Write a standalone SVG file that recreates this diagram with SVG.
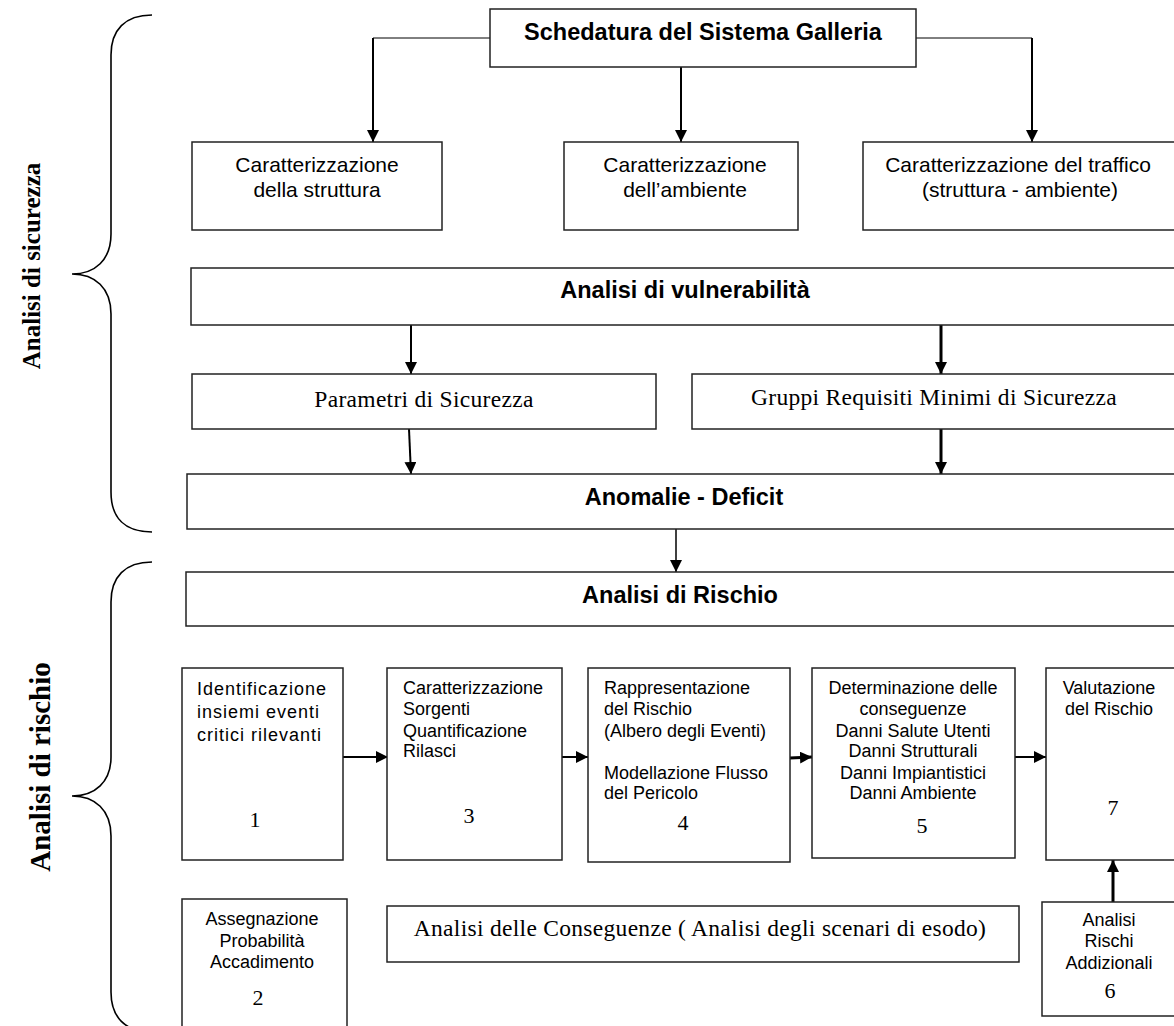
<svg xmlns="http://www.w3.org/2000/svg" width="1174" height="1026" viewBox="0 0 1174 1026">
<style>
.box{fill:#fff;stroke:#222;stroke-width:1.5}
.t{font-family:"Liberation Sans",Arial,sans-serif;fill:#000}
.b{font-family:"Liberation Sans",Arial,sans-serif;font-weight:bold;font-size:23.5px;fill:#000;text-anchor:middle}
.s{font-family:"Liberation Serif","Times New Roman",serif;fill:#000}
.n{font-family:"Liberation Serif","Times New Roman",serif;font-size:22px;fill:#000;text-anchor:middle}
.c{text-anchor:middle}
.ln{stroke:#000;fill:none}
.br{stroke:#000;stroke-width:1.6;fill:none}
</style>
<defs>
<marker id="ah" markerWidth="12" markerHeight="12" refX="12" refY="6" orient="auto" markerUnits="userSpaceOnUse"><path d="M0,0 L12,6 L0,12 z" fill="#000"/></marker>
</defs>
<rect width="1174" height="1026" fill="#fff"/>

<g id="braces">
<path class="br" d="M152,15 C125,15 111,30 111,55 L111,234 C111,260 95,274 72,274 C95,274 111,288 111,314 L111,492 C111,518 125,532 152,532"/>
<path class="br" d="M152,562 C125,562 111,577 111,602 L111,757 C111,782 95,796 72,796 C95,796 111,810 111,836 L111,992 C111,1017 125,1032 152,1032"/>
</g>
<g id="label-sicurezza"><text class="s" font-weight="bold" font-size="25" text-anchor="middle" transform="translate(40,266) rotate(-90)">Analisi di sicurezza</text></g>
<g id="label-rischio"><text class="s" font-weight="bold" font-size="29" text-anchor="middle" transform="translate(50,767) rotate(-90)">Analisi di rischio</text></g>

<g id="connectors">
<polyline class="ln" stroke-width="1" points="490,38 373,38"/>
<line class="ln" stroke-width="2" x1="373" y1="38" x2="373" y2="142" marker-end="url(#ah)"/>
<line class="ln" stroke-width="2" x1="681" y1="67" x2="681" y2="142" marker-end="url(#ah)"/>
<polyline class="ln" stroke-width="1" points="916,38 1032,38"/>
<line class="ln" stroke-width="2" x1="1032" y1="38" x2="1032" y2="142" marker-end="url(#ah)"/>
<line class="ln" stroke-width="2" x1="411" y1="325" x2="411" y2="374" marker-end="url(#ah)"/>
<line class="ln" stroke-width="3" x1="941" y1="325" x2="941" y2="374" marker-end="url(#ah)"/>
<line class="ln" stroke-width="2" x1="409" y1="429" x2="411" y2="474" marker-end="url(#ah)"/>
<line class="ln" stroke-width="3" x1="941" y1="429" x2="941" y2="474" marker-end="url(#ah)"/>
<line class="ln" stroke-width="1.5" x1="676" y1="529" x2="676" y2="572" marker-end="url(#ah)"/>
<line class="ln" stroke-width="2" x1="343" y1="757" x2="388" y2="757" marker-end="url(#ah)"/>
<line class="ln" stroke-width="2" x1="562" y1="757" x2="588" y2="757" marker-end="url(#ah)"/>
<line class="ln" stroke-width="3" x1="790" y1="758" x2="812" y2="757" marker-end="url(#ah)"/>
<line class="ln" stroke-width="2" x1="1015" y1="757" x2="1046" y2="757" marker-end="url(#ah)"/>
<line class="ln" stroke-width="3" x1="1113" y1="902" x2="1113" y2="860" marker-end="url(#ah)"/>
</g>

<g id="schedatura">
<rect class="box" x="490" y="9" width="426" height="58"/>
<text class="b" x="703" y="40">Schedatura del Sistema Galleria</text>
</g>
<g id="car-struttura">
<rect class="box" x="192" y="142" width="250" height="88"/>
<text class="t c" font-size="21" x="317" y="172">Caratterizzazione</text>
<text class="t c" font-size="21" x="317" y="197">della struttura</text>
</g>
<g id="car-ambiente">
<rect class="box" x="564" y="142" width="234" height="88"/>
<text class="t c" font-size="21" x="685" y="172">Caratterizzazione</text>
<text class="t c" font-size="21" x="685" y="197">dell’ambiente</text>
</g>
<g id="car-traffico">
<rect class="box" x="863" y="142" width="320" height="88"/>
<text class="t c" font-size="21" x="1018" y="172">Caratterizzazione del traffico</text>
<text class="t c" font-size="21" x="1020" y="197">(struttura - ambiente)</text>
</g>
<g id="vulnerabilita">
<rect class="box" x="191" y="268" width="992" height="57"/>
<text class="b" x="685" y="298">Analisi di vulnerabilità</text>
</g>
<g id="parametri">
<rect class="box" x="192" y="374" width="464" height="55"/>
<text class="s c" font-size="23.5" letter-spacing="0.3" x="424" y="407">Parametri di Sicurezza</text>
</g>
<g id="gruppi">
<rect class="box" x="692" y="374" width="491" height="55"/>
<text class="s c" font-size="23.5" letter-spacing="0.3" x="934" y="405">Gruppi Requisiti Minimi di Sicurezza</text>
</g>
<g id="anomalie">
<rect class="box" x="187" y="474" width="996" height="55"/>
<text class="b" x="684" y="505">Anomalie - Deficit</text>
</g>
<g id="rischio">
<rect class="box" x="186" y="572" width="997" height="54"/>
<text class="b" x="680" y="603">Analisi di Rischio</text>
</g>
<g id="n1">
<rect class="box" x="182" y="668" width="161" height="192"/>
<text class="t" font-size="18" letter-spacing="1" x="197" y="695">Identificazione</text>
<text class="t" font-size="18" letter-spacing="1" x="197" y="718">insiemi eventi</text>
<text class="t" font-size="18" letter-spacing="1" x="197" y="741">critici rilevanti</text>
<text class="n" x="255" y="827">1</text>
</g>
<g id="n3">
<rect class="box" x="387" y="668" width="175" height="192"/>
<text class="t" font-size="18" x="403" y="694">Caratterizzazione</text>
<text class="t" font-size="18" x="403" y="715">Sorgenti</text>
<text class="t" font-size="18" x="403" y="737">Quantificazione</text>
<text class="t" font-size="18" x="403" y="757">Rilasci</text>
<text class="n" x="469" y="823">3</text>
</g>
<g id="n4">
<rect class="box" x="588" y="668" width="202" height="194"/>
<text class="t" font-size="18" x="604" y="694">Rappresentazione</text>
<text class="t" font-size="18" x="604" y="715">del Rischio</text>
<text class="t" font-size="18" x="604" y="737">(Albero degli Eventi)</text>
<text class="t" font-size="18" x="604" y="779">Modellazione Flusso</text>
<text class="t" font-size="18" x="604" y="799">del Pericolo</text>
<text class="n" x="683" y="830">4</text>
</g>
<g id="n5">
<rect class="box" x="812" y="668" width="203" height="190"/>
<text class="t c" font-size="18" x="913" y="694">Determinazione delle</text>
<text class="t c" font-size="18" x="913" y="715">conseguenze</text>
<text class="t c" font-size="18" x="913" y="737">Danni Salute Utenti</text>
<text class="t c" font-size="18" x="913" y="757">Danni Strutturali</text>
<text class="t c" font-size="18" x="913" y="779">Danni Impiantistici</text>
<text class="t c" font-size="18" x="913" y="799">Danni Ambiente</text>
<text class="n" x="922" y="833">5</text>
</g>
<g id="n7">
<rect class="box" x="1046" y="668" width="137" height="192"/>
<text class="t c" font-size="18" x="1109" y="694">Valutazione</text>
<text class="t c" font-size="18" x="1109" y="715">del Rischio</text>
<text class="n" x="1113" y="815">7</text>
</g>
<g id="n2">
<rect class="box" x="182" y="899" width="165" height="135"/>
<text class="t c" font-size="18" x="262" y="925">Assegnazione</text>
<text class="t c" font-size="18" x="262" y="947">Probabilità</text>
<text class="t c" font-size="18" x="262" y="968">Accadimento</text>
<text class="n" x="258" y="1005">2</text>
</g>
<g id="conseguenze">
<rect class="box" x="387" y="906" width="632" height="56"/>
<text class="s c" font-size="23.5" letter-spacing="0.3" x="700" y="936">Analisi delle Conseguenze ( Analisi degli scenari di esodo)</text>
</g>
<g id="n6">
<rect class="box" x="1042" y="902" width="141" height="114"/>
<text class="t c" font-size="18" x="1109" y="926">Analisi</text>
<text class="t c" font-size="18" x="1109" y="947">Rischi</text>
<text class="t c" font-size="18" x="1109" y="969">Addizionali</text>
<text class="n" x="1110" y="998">6</text>
</g>
</svg>
